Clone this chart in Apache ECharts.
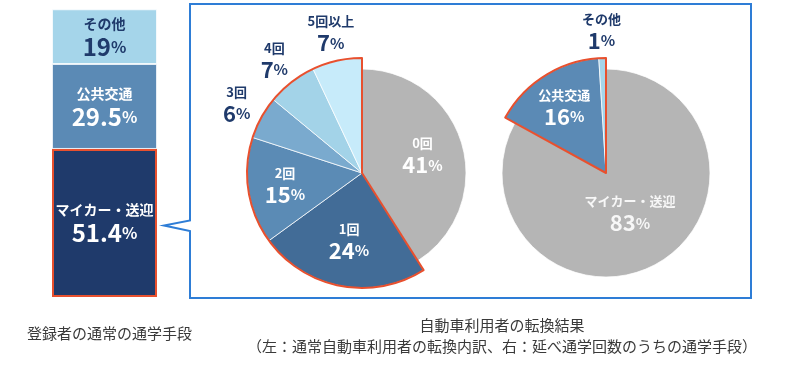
<!DOCTYPE html>
<html>
<head>
<meta charset="utf-8">
<script src="https://cdn.jsdelivr.net/npm/echarts@6/dist/echarts.min.js"></script>
<style>
html,body{margin:0;padding:0;background:#fff;}
#chart{width:800px;height:377px;}
</style>
</head>
<body>
<div id="chart"></div>
<script>
// ---- data ----
const barCategories = ['登録者'];
const barNames = ['マイカー・送迎', '公共交通', 'その他'];
const barValues = [51.4, 29.5, 19];

const pie1Names = ['0回', '1回', '2回', '3回', '4回', '5回以上'];
const pie1Values = [41, 24, 15, 6, 7, 7];

const pie2Names = ['マイカー・送迎', '公共交通', 'その他'];
const pie2Values = [83, 16, 1];

const captionLeft = '登録者の通常の通学手段';
const captionRight1 = '自動車利用者の転換結果';
const captionRight2 = '（左：通常自動車利用者の転換内訳、右：延べ通学回数のうちの通学手段）';

// ---- styles ----
const FONT = '"Noto Sans CJK JP", "Noto Sans", sans-serif';
const NAVY = '#1f3a6b';
const RED = '#e8502e';
const BLUE_LINE = '#2e7dd6';
const GRAY = '#b5b5b5';
const barColors = ['#1f3a6b', '#5b8ab5', '#a5d5ea'];
const barLabelColors = ['#ffffff', '#ffffff', NAVY];
const pie1Colors = [GRAY, '#426c97', '#5b8bb5', '#7aaace', '#a3d3e8', '#c7ebfa'];
const pie2Colors = [GRAY, '#5b8ab5', '#a5d5ea'];

function rich(color, nSize, vSize, pSize) {
  return {
    n: {fontSize: nSize, fontWeight: 'bold', color: color, fontFamily: FONT, lineHeight: nSize + 6, align: 'center'},
    v: {fontSize: vSize, fontWeight: 'bold', color: color, fontFamily: FONT, lineHeight: vSize + 2},
    p: {fontSize: pSize, fontWeight: 'bold', color: color, fontFamily: FONT, lineHeight: vSize + 2}
  };
}
function fmt(p) { return '{n|' + p.name + '}\n{v|' + p.value + '}{p|%}'; }

const C1 = [362, 173];
const C2 = [606, 173];
const R_BASE = 104;
const R_BIG = 115;

function pieLayer(center, r, names, values, colors, visibleFn) {
  return {
    type: 'pie', center: center, radius: [0, r], startAngle: 90, clockwise: true,
    silent: true, avoidLabelOverlap: false, label: {show: false}, labelLine: {show: false},
    animation: false,
    data: names.map((n, i) => ({
      name: n, value: values[i],
      itemStyle: visibleFn(i)
        ? {color: colors[i], borderColor: 'rgba(255,255,255,0.75)', borderWidth: 1}
        : {color: 'rgba(0,0,0,0)', borderWidth: 0}
    }))
  };
}
function outlineLayer(center, r, baseName, baseValue, restValues) {
  const rest = restValues.reduce((a, b) => a + b, 0);
  return {
    type: 'pie', center: center, radius: [0, r], startAngle: 90, clockwise: true,
    silent: true, label: {show: false}, labelLine: {show: false}, animation: false,
    data: [
      {name: baseName, value: baseValue, itemStyle: {color: 'rgba(0,0,0,0)', borderWidth: 0}},
      {name: 'group', value: rest, itemStyle: {color: 'rgba(0,0,0,0)', borderColor: RED, borderWidth: 2}}
    ]
  };
}
function labelLayer(center, R, names, values, showIdx, color) {
  return {
    type: 'pie', center: center, radius: [0, R], startAngle: 90, clockwise: true,
    silent: true, avoidLabelOverlap: false, animation: false,
    itemStyle: {color: 'rgba(0,0,0,0)', borderWidth: 0},
    labelLine: {show: false},
    label: {show: true, position: 'inside', formatter: fmt, rich: rich(color, 13, 22, 15)},
    data: names.map((n, i) => ({name: n, value: values[i], label: {show: showIdx.indexOf(i) >= 0}}))
  };
}

const barSeries = barNames.map((n, i) => ({
  name: n, type: 'bar', stack: 'total', barWidth: '100%',
  data: [barValues[i]], animation: false,
  itemStyle: i === 0
    ? {color: barColors[i], borderColor: RED, borderWidth: 2}
    : {color: barColors[i], borderColor: 'rgba(255,255,255,0.7)', borderWidth: 1},
  label: {
    show: true, position: 'inside',
    formatter: (p) => '{n|' + p.seriesName + '}\n{v|' + p.value + '}{p|%}',
    rich: rich(barLabelColors[i], 14, 24, 16)
  }
}));

const pieSeries = [
  pieLayer(C1, R_BASE, pie1Names, pie1Values, pie1Colors, i => i === 0),
  pieLayer(C1, R_BIG, pie1Names, pie1Values, pie1Colors, i => i !== 0),
  outlineLayer(C1, R_BIG, pie1Names[0], pie1Values[0], pie1Values.slice(1)),
  labelLayer(C1, 120, pie1Names, pie1Values, [0], '#ffffff'),
  labelLayer(C1, 132, pie1Names, pie1Values, [1], '#ffffff'),
  labelLayer(C1, 150, pie1Names, pie1Values, [2], '#ffffff'),
  labelLayer(C1, 280, pie1Names, pie1Values, [3, 4, 5], NAVY),

  pieLayer(C2, R_BASE, pie2Names, pie2Values, pie2Colors, i => i === 0),
  pieLayer(C2, R_BIG, pie2Names, pie2Values, pie2Colors, i => i !== 0),
  outlineLayer(C2, R_BIG, pie2Names[0], pie2Values[0], pie2Values.slice(1)),
  labelLayer(C2, 88, pie2Names, pie2Values, [0], '#f7f7f7'),
  labelLayer(C2, 150, pie2Names, pie2Values, [1], '#ffffff'),
  labelLayer(C2, 278, pie2Names, pie2Values, [2], NAVY)
];

const chart = echarts.init(document.getElementById('chart'), null, {renderer: 'canvas'});
chart.setOption({
  backgroundColor: '#ffffff',
  animation: false,
  textStyle: {fontFamily: FONT},
  grid: {left: 52, right: 643, top: 9, bottom: 80},
  xAxis: {type: 'category', data: barCategories, show: false},
  yAxis: {type: 'value', min: 0, max: 100, show: false},
  graphic: [
    {
      type: 'polygon', silent: true, z: 0,
      shape: {points: [[190, 4], [751, 4], [751, 298], [190, 298], [190, 231], [164, 225.5], [190, 220.5]]},
      style: {fill: 'none', stroke: BLUE_LINE, lineWidth: 2}
    },
    {
      type: 'text', x: 27, y: 333, silent: true,
      style: {text: captionLeft, fontSize: 15, fontFamily: FONT, fill: '#3a3a3a', align: 'left', verticalAlign: 'middle'}
    },
    {
      type: 'text', x: 502, y: 325, silent: true,
      style: {text: captionRight1, fontSize: 15, fontFamily: FONT, fill: '#3a3a3a', align: 'center', verticalAlign: 'middle'}
    },
    {
      type: 'text', x: 502, y: 346, silent: true,
      style: {text: captionRight2, fontSize: 15, fontFamily: FONT, fill: '#3a3a3a', align: 'center', verticalAlign: 'middle'}
    }
  ],
  series: barSeries.concat(pieSeries)
});
</script>
</body>
</html>
